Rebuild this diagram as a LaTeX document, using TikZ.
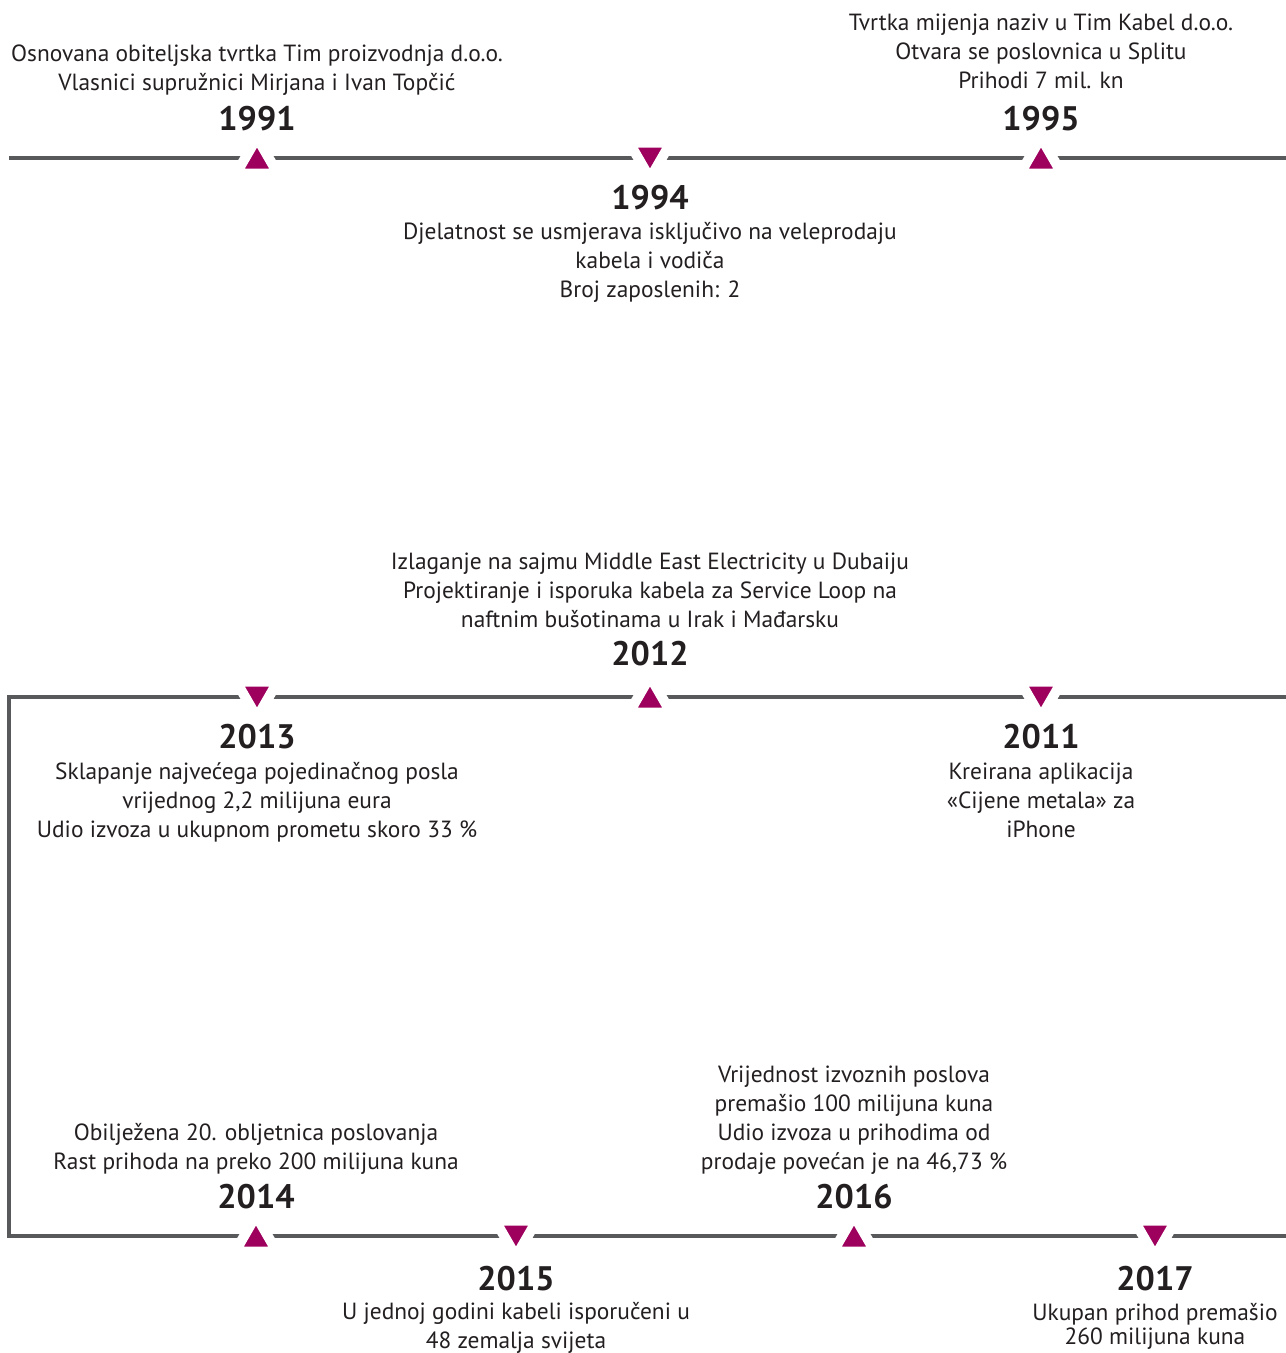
\documentclass[tikz,border=0pt]{standalone}
\usepackage{fontspec}
\setmainfont{PT Sans}
\usetikzlibrary{shapes.geometric}
\definecolor{osboja}{RGB}{88,89,91}
\definecolor{oznaka}{RGB}{158,0,94}
\definecolor{tekst}{RGB}{35,31,32}
\tikzset{
  os/.style={osboja, line width=4.5pt},
  gore/.style={regular polygon, regular polygon sides=3, fill=oznaka,
    draw=white, line width=10pt, line join=round, inner sep=0pt, minimum size=48pt},
  dolje/.style={gore, shape border rotate=180},
  godina/.style={inner sep=0pt, anchor=base, text=tekst, font=\fontsize{34}{40}\selectfont\bfseries},
  opis/.style={inner sep=0pt, anchor=base, align=center, text=tekst, font=\fontsize{23.4}{29}\selectfont},
}
\begin{document}
\begin{tikzpicture}[x=1pt,y=-1pt]%{{{
\useasboundingbox (0,0) rectangle (1286,1353);
%
% Vremenska os
\draw [os] (9,158) -- (1286,158);
\draw [os] (1286,697) -- (9,697) -- (9,1236) -- (1286,1236);
%
% Oznake
\node [gore]  (m1991) at (257,161.5)  {};
\node [dolje] (m1994) at (650,154.5)  {};
\node [gore]  (m1995) at (1041,161.5) {};
\node [dolje] (m2013) at (257,693.5)  {};
\node [gore]  (m2012) at (650,700.5)  {};
\node [dolje] (m2011) at (1041,693.5) {};
\node [gore]  (m2014) at (256,1239.5) {};
\node [dolje] (m2015) at (516,1232.5) {};
\node [gore]  (m2016) at (854,1239.5) {};
\node [dolje] (m2017) at (1155,1232.5) {};
%
% Godine
\node [godina] (g1991) at (257,130)  {1991};
\node [godina] (g1994) at (650,209)  {1994};
\node [godina] (g1995) at (1041,130) {1995};
\node [godina] (g2012) at (650,665)  {2012};
\node [godina] (g2013) at (257,748)  {2013};
\node [godina] (g2011) at (1041,748) {2011};
\node [godina] (g2014) at (256,1208) {2014};
\node [godina] (g2016) at (854,1208) {2016};
\node [godina] (g2015) at (516,1290) {2015};
\node [godina] (g2017) at (1155,1290) {2017};
%
% Opisi
\node [opis] (o1991) at (257,90)
  {Osnovana obiteljska tvrtka Tim proizvodnja d.o.o.\\Vlasnici supružnici Mirjana i Ivan Topčić};
\node [opis] (o1995) at (1041,88)
  {Tvrtka mijenja naziv u Tim Kabel d.o.o.\\Otvara se poslovnica u Splitu\\Prihodi 7 mil. kn};
\node [opis] (o1994) at (650,297)
  {Djelatnost se usmjerava isključivo na veleprodaju\\kabela i vodiča\\Broj zaposlenih: 2};
\node [opis] (o2012) at (650,627)
  {Izlaganje na sajmu Middle East Electricity u Dubaiju\\Projektiranje i isporuka kabela za Service Loop na\\naftnim bušotinama u Irak i Mađarsku};
\node [opis] (o2013) at (257,837)
  {Sklapanje najvećega pojedinačnog posla\\vrijednog 2,2 milijuna eura\\Udio izvoza u ukupnom prometu skoro 33 \%};
\node [opis] (o2011) at (1041,837)
  {Kreirana aplikacija\\«Cijene metala» za\\iPhone};
\node [opis] (o2014) at (256,1169)
  {Obilježena 20. obljetnica poslovanja\\Rast prihoda na preko 200 milijuna kuna};
\node [opis] (o2016) at (854,1169.5)
  {Vrijednost izvoznih poslova\\premašio 100 milijuna kuna\\Udio izvoza u prihodima od\\prodaje povećan je na 46,73 \%};
\node [opis] (o2015) at (516,1348)
  {U jednoj godini kabeli isporučeni u\\48 zemalja svijeta};
\node [opis, font=\fontsize{23.4}{24}\selectfont] (o2017) at (1155,1344)
  {Ukupan prihod premašio\\260 milijuna kuna};
%
\end{tikzpicture}
\end{document}
